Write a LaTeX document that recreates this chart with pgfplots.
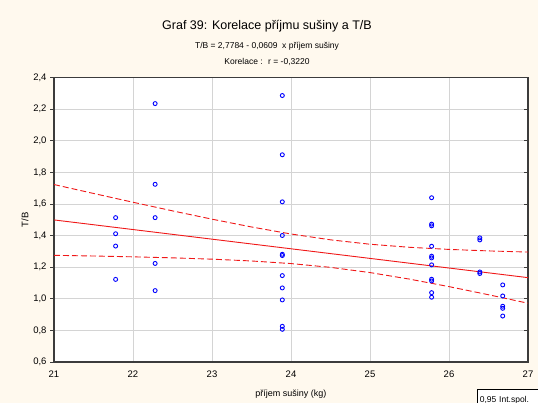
\documentclass[border=0pt]{standalone}
\usepackage{pgfplots}
\pgfplotsset{compat=1.18}
\usepackage{fontspec}
\setmainfont{Liberation Sans}

\definecolor{bgcream}{HTML}{FFF9EE}
\definecolor{ptblue}{HTML}{0000FF}
\definecolor{fitred}{HTML}{F01818}
\definecolor{frame}{HTML}{3C3C3C}

\begin{document}
\begin{tikzpicture}[x=1pt,y=1pt]
\path[use as bounding box] (0,0) rectangle (538,403);
\clip (0,0) rectangle (538,403);
\fill[bgcream] (0,0) rectangle (538,403);

% titles
\node[font=\fontsize{12.5}{14}\selectfont] at (267,377) {Graf 39: Korelace příjmu sušiny a T/B};
\node[font=\fontsize{8.5}{10}\selectfont] at (267,357) {T/B = 2,7784 - 0,0609 \ x příjem sušiny};
\node[font=\fontsize{8.5}{10}\selectfont] at (267,341) {Korelace : \ r = -0,3220};

\begin{axis}[
  at={(54pt,41pt)}, anchor=south west,
  width=474pt, height=284.3pt, scale only axis,
  xmin=21, xmax=27, ymin=0.6, ymax=2.4,
  xtick={21,22,...,27},
  ytick={0.6,0.8,1.0,1.2,1.4,1.6,1.8,2.0,2.2,2.4},
  ytick pos=left, xtick pos=bottom,
  tick align=outside,
  major tick length=4pt,
  x tick style={draw=none},
  y tick style={draw=frame, line width=0.8pt},
  grid=major,
  grid style={draw=black!17, line width=0.8pt},
  axis line style={draw=frame, line width=1.3pt},
  axis background/.style={fill=white},
  tick label style={font=\fontsize{9.5}{11}\selectfont},
  /pgf/number format/assume math mode=true,
  yticklabel style={/pgf/number format/.cd, use comma, fixed, fixed zerofill, precision=1},
  xticklabel style={yshift=-1pt},
  xlabel={příjem sušiny (kg)},
  ylabel={T/B},
  xlabel style={font=\fontsize{9}{10}\selectfont, at={(axis description cs:0.5,0)}, anchor=north, yshift=-24pt},
  ylabel style={font=\fontsize{9.5}{11}\selectfont, at={(axis description cs:0,0.5)}, anchor=south, xshift=0pt, yshift=22pt},
  clip=true,
]
% confidence band for the mean (0.95)
\addplot[fitred, line width=0.9pt, dash pattern=on 6pt off 3pt] coordinates {
 (21,1.7236) (21.5,1.6671) (22,1.6114) (22.5,1.5569) (23,1.5043) (23.5,1.4549)
 (24,1.4104) (24.5,1.3735) (25,1.3456) (25.5,1.3262) (26,1.3128) (26.5,1.3033) (27,1.2961)};
\addplot[fitred, line width=0.9pt, dash pattern=on 6pt off 3pt] coordinates {
 (21,1.2754) (21.5,1.2711) (22,1.2658) (22.5,1.2594) (23,1.2511) (23.5,1.2396)
 (24,1.2232) (24.5,1.1992) (25,1.1662) (25.5,1.1247) (26,1.0772) (26.5,1.0258) (27,0.9721)};
% regression line
\addplot[fitred, line width=0.9pt] coordinates {(21,1.4995) (27,1.1341)};
% observations
\addplot[only marks, mark=o, mark size=2pt, mark options={ptblue, line width=0.9pt}] coordinates {
 (21.78,1.514) (21.78,1.412) (21.78,1.334) (21.78,1.123)
 (22.28,2.236) (22.28,1.725) (22.28,1.514) (22.28,1.224) (22.28,1.052)
 (23.89,2.287) (23.89,1.912) (23.89,1.614) (23.89,1.401) (23.89,1.282) (23.89,1.274)
 (23.89,1.147) (23.89,1.069) (23.89,0.993) (23.89,0.826) (23.89,0.807)
 (25.78,1.640) (25.78,1.473) (25.78,1.462) (25.78,1.333) (25.78,1.270) (25.78,1.259)
 (25.78,1.215) (25.78,1.124) (25.78,1.113) (25.78,1.039) (25.78,1.010)
 (26.39,1.386) (26.39,1.373) (26.39,1.170) (26.39,1.160)
 (26.68,1.088) (26.68,1.018) (26.68,0.953) (26.68,0.940) (26.68,0.891)};
\end{axis}

% right-hand ticks pointing inward
\begin{axis}[
  at={(54pt,41pt)}, anchor=south west,
  width=474pt, height=284.3pt, scale only axis,
  xmin=21, xmax=27, ymin=0.6, ymax=2.4,
  hide x axis, axis y line*=right,
  y axis line style={draw=none},
  ytick={0.6,0.8,1.0,1.2,1.4,1.6,1.8,2.0,2.2,2.4},
  yticklabels={}, tick align=inside, major tick length=4pt,
  y tick style={draw=frame, line width=0.8pt},
]
\end{axis}

% legend box
\node[draw=black, line width=0.7pt, fill=white, anchor=north west, inner sep=2.5pt,
      minimum height=20pt, text depth=0pt, align=left, text width=70pt,
      font=\fontsize{8.5}{10}\selectfont] at (477,14) {0,95 Int.spol.\\[8pt]};
\end{tikzpicture}
\end{document}
